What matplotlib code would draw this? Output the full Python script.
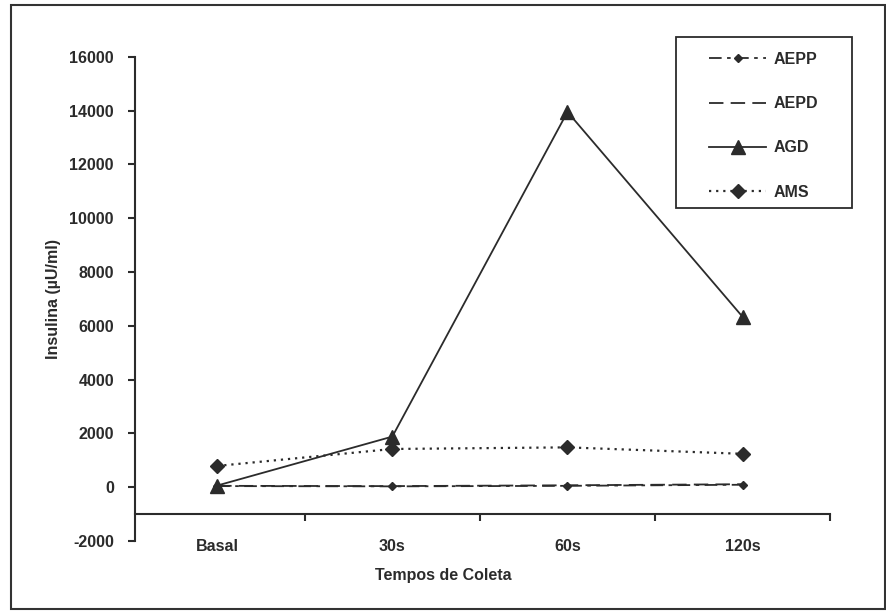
import matplotlib
matplotlib.use("Agg")
import matplotlib.pyplot as plt
from matplotlib.patches import Rectangle

# dados
tempos = ["Basal", "30s", "60s", "120s"]
aepp = [40, 30, 50, 90]
aepd = [50, 40, 70, 110]
agd = [60, 1880, 13950, 6330]
ams = [790, 1420, 1480, 1240]

cor = "#2b2b2b"
plt.rcParams["font.family"] = ["Liberation Sans", "DejaVu Sans"]
plt.rcParams["font.weight"] = "bold"
plt.rcParams["axes.unicode_minus"] = False

fig = plt.figure(figsize=(8.87, 6.11), dpi=100)
ax = fig.add_axes([0.152, 0.1146, 0.784, 0.7925])

x = list(range(len(tempos)))
ax.plot(x, aepp, color=cor, lw=1.3, ls=(0, (7, 3, 2, 3)), marker="D", ms=4.5, label="AEPP")
ax.plot(x, aepd, color=cor, lw=1.3, ls=(0, (8, 4)), label="AEPD")
ax.plot(x, agd, color=cor, lw=1.3, ls="-", marker="^", ms=10, label="AGD")
ax.plot(x, ams, color=cor, lw=1.6, ls=(0, (1, 2.2)), marker="D", ms=7, label="AMS")

ax.set_xlim(-0.47, 3.5)
ax.set_ylim(-2000, 16000)
ax.set_yticks(range(-2000, 16001, 2000))

# eixo x cruzando em -1000
ax.spines["bottom"].set_position(("data", -1000))
ax.spines["top"].set_visible(False)
ax.spines["right"].set_visible(False)
for s in ("left", "bottom"):
    ax.spines[s].set_color(cor)
    ax.spines[s].set_linewidth(1.5)

ax.set_xticks([0.5, 1.5, 2.5, 3.5])
ax.set_xticklabels([])
ax.set_xticks(x, minor=True)
ax.set_xticklabels(tempos, minor=True)
ax.tick_params(axis="x", which="major", direction="out", length=5, width=1.5, color=cor)
ax.tick_params(axis="x", which="minor", length=0, pad=18, labelsize=11.5, labelcolor=cor)
ax.tick_params(axis="y", direction="out", length=5, width=1.5, color=cor, pad=10,
               labelsize=11.5, labelcolor=cor)

ax.set_ylabel("Insulina (\u00b5U/ml)", fontsize=11.5, color=cor, fontweight="bold", labelpad=6)
fig.text(0.5, 0.058, "Tempos de Coleta", ha="center", va="center", fontsize=11.5,
         color=cor, fontweight="bold")

leg = ax.legend(loc="upper left", bbox_to_anchor=(709 / 887, 1 - 52 / 611),
                bbox_transform=fig.transFigure, frameon=False,
                handlelength=3.6, labelspacing=1.83, borderpad=0,
                handletextpad=0.45, borderaxespad=0, prop={"size": 11.5, "weight": "bold"})
for t in leg.get_texts():
    t.set_color(cor)

# caixa da legenda
fig.patches.append(Rectangle((676 / 887, 1 - 208 / 611), 176 / 887, 171 / 611,
                             transform=fig.transFigure, fill=False, edgecolor=cor, linewidth=1.3))
# moldura da figura
fig.patches.append(Rectangle((11 / 887, 2 / 611), 874 / 887, 604 / 611, transform=fig.transFigure,
                             fill=False, edgecolor="#333333", linewidth=1.5))

fig.savefig("out.png", dpi=100)
